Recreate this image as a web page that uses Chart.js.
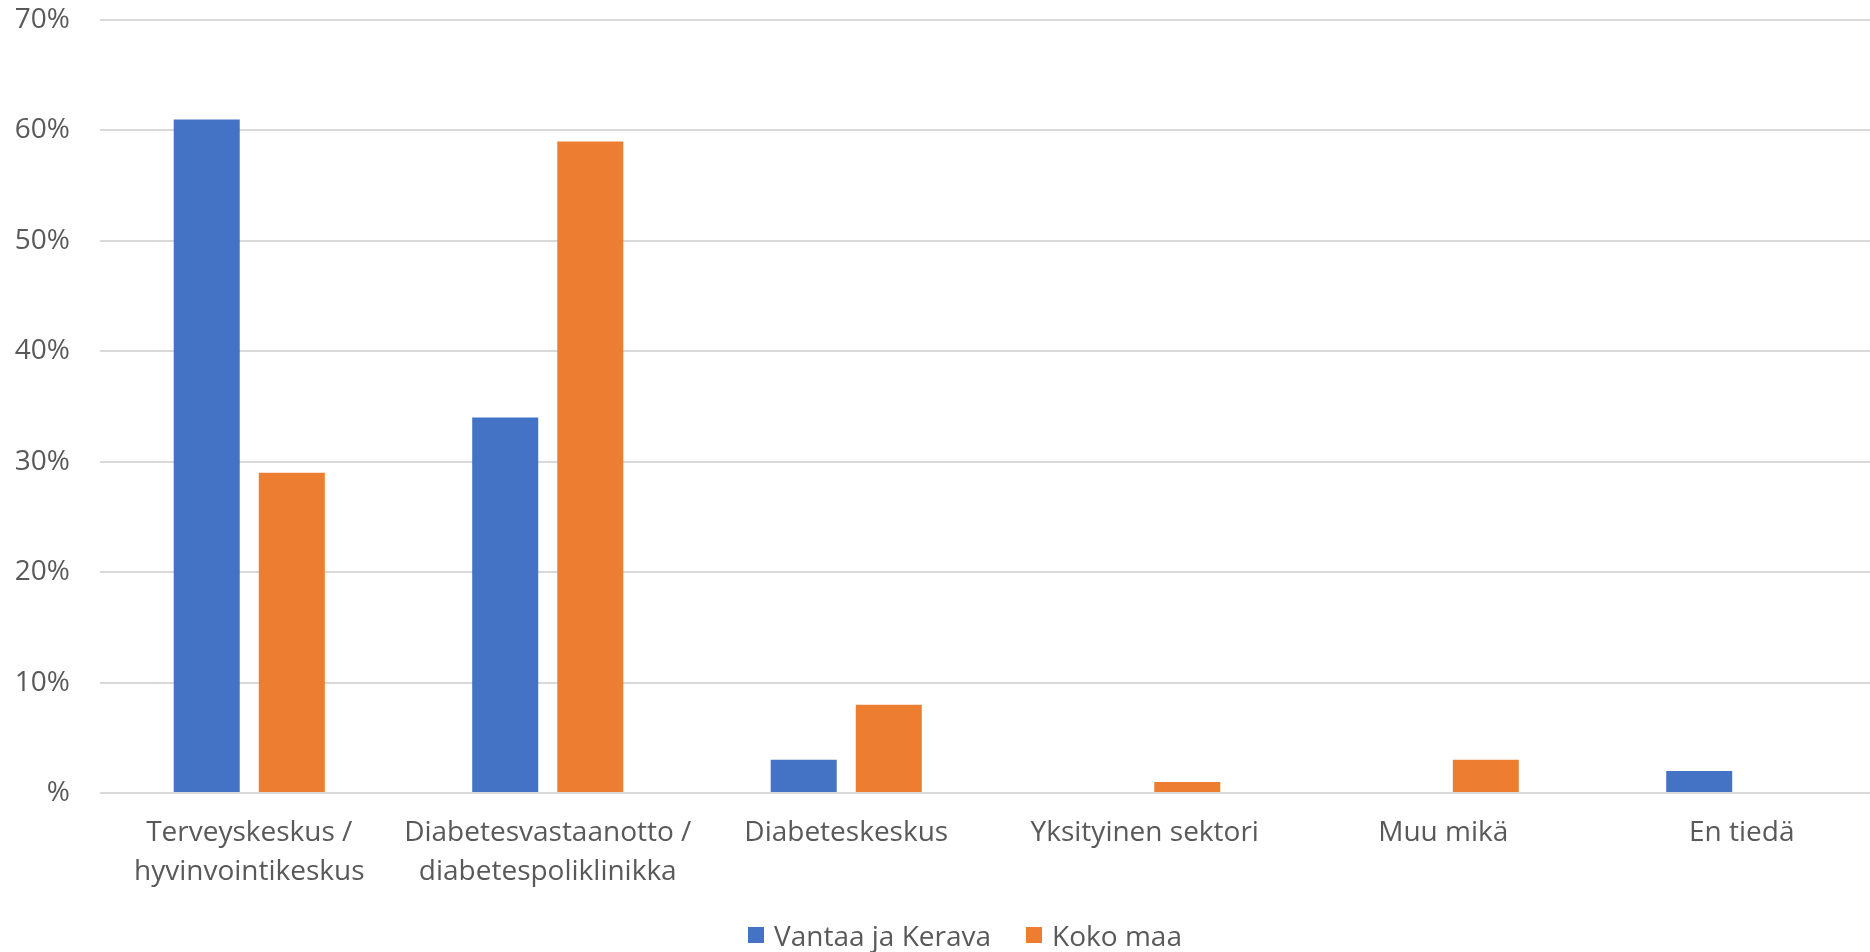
<!DOCTYPE html>
<html>
<head>
<meta charset="utf-8">
<script src="https://cdn.jsdelivr.net/npm/chart.js@4/dist/chart.umd.min.js"></script>
<style>
  html, body { margin: 0; padding: 0; background: #fff; overflow: hidden; }
  #wrap { position: relative; width: 1900px; height: 952px; }
  #legend {
    position: absolute; top: 916px; left: 748px;
    font-family: "Open Sans", sans-serif; font-size: 28px; color: #595959;
    display: flex; align-items: center; white-space: nowrap;
  }
  #legend .item { display: flex; align-items: center; margin-right: 35px; }
  #legend .box { width: 16px; height: 16px; margin-right: 10px; }
</style>
</head>
<body>
<div id="wrap">
  <canvas id="chart" width="1900" height="952"></canvas>
  <div id="legend"></div>
</div>
<script>
const categories = [
  ["Terveyskeskus /", "hyvinvointikeskus"],
  ["Diabetesvastaanotto /", "diabetespoliklinikka"],
  "Diabeteskeskus",
  "Yksityinen sektori",
  "Muu mikä",
  "En tiedä",
];
const seriesNames = ["Vantaa ja Kerava", "Koko maa"];
const vantaaKerava = [61, 34, 3, 0, 0, 2];
const kokoMaa = [29, 59, 8, 1, 3, 0];
const yTicks = [0, 10, 20, 30, 40, 50, 60, 70];
const colors = ["#4472C4", "#ED7D31"];

const FONT = "'Open Sans', sans-serif";
const TEXT = "#595959";

const ctx = document.getElementById("chart").getContext("2d");
new Chart(ctx, {
  type: "bar",
  data: {
    labels: categories,
    datasets: [
      { label: seriesNames[0], data: vantaaKerava, backgroundColor: colors[0] },
      { label: seriesNames[1], data: kokoMaa, backgroundColor: colors[1] },
    ],
  },
  options: {
    responsive: false,
    animation: false,
    categoryPercentage: 0.57,
    barPercentage: 0.776,
    layout: { padding: { top: 20, right: 9, bottom: 52, left: 0 } },
    plugins: { legend: { display: false }, tooltip: { enabled: false } },
    scales: {
      x: {
        grid: { display: false },
        border: { display: false },
        ticks: {
          color: TEXT,
          font: { family: FONT, size: 28, lineHeight: 1.4 },
          maxRotation: 0,
          autoSkip: false,
          padding: 12,
        },
        afterFit(scale) { scale.height = 107; },
      },
      y: {
        min: yTicks[0],
        max: yTicks[yTicks.length - 1],
        afterBuildTicks(scale) { scale.ticks = yTicks.map(v => ({ value: v })); },
        grid: { color: "#d9d9d9", lineWidth: 2, drawTicks: false },
        border: { display: false },
        ticks: {
          color: TEXT,
          font: { family: FONT, size: 28 },
          padding: 30,
          callback: v => (v === 0 ? "%" : v + "%"),
        },
        afterFit(scale) {
          scale.width = 100;
          scale.paddingTop = 0;
          scale.paddingBottom = 0;
        },
      },
    },
  },
});

// legend
const legend = document.getElementById("legend");
seriesNames.forEach((name, i) => {
  const item = document.createElement("div");
  item.className = "item";
  const box = document.createElement("span");
  box.className = "box";
  box.style.background = colors[i];
  const txt = document.createElement("span");
  txt.textContent = name;
  item.appendChild(box);
  item.appendChild(txt);
  legend.appendChild(item);
});
</script>
</body>
</html>
